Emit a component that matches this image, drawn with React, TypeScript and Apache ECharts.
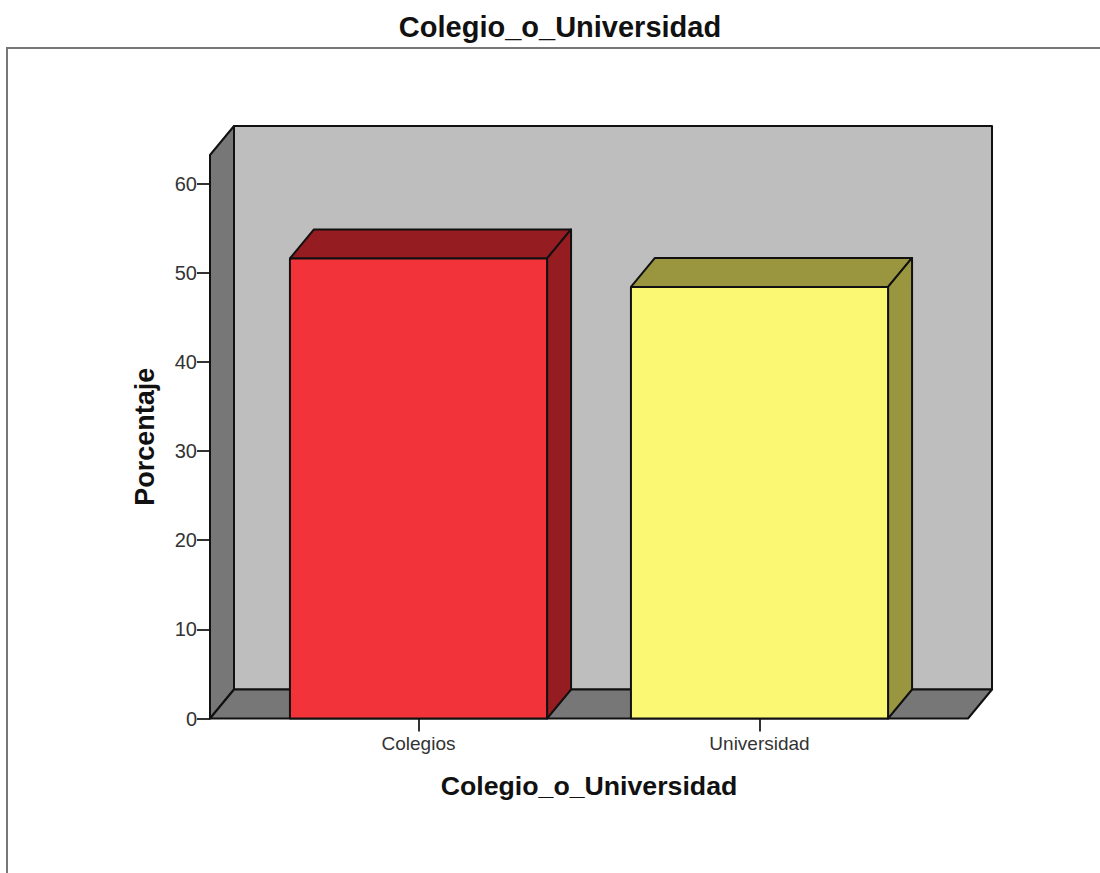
import React, { useEffect, useRef } from "react";
import * as echarts from "echarts";

const categories = ["Colegios", "Universidad"];
const percentages = [51.6, 48.4];
const yTicks = [0, 10, 20, 30, 40, 50, 60];
const barFills = ["#F2333A", "#FBF874"];
const barShades = ["#951C20", "#9A9640"];

const FONT = "'Liberation Sans', Arial, sans-serif";
const GRID = { left: 248, right: 170, top: 155, bottom: 154.5 };
const Y_MAX = 63.2;
const DEPTH_X = 24;
const DEPTH_Y = 29;
const WALL_OVERHANG = 38;
const BAR_RATIO = 0.754;
const OUTLINE = { stroke: "#111", lineWidth: 2, lineJoin: "round" as const };

const poly = (points: number[][], fill: string) => ({
  type: "polygon",
  shape: { points },
  style: { fill, ...OUTLINE },
});

export default function App() {
  const ref = useRef<HTMLDivElement>(null);
  useEffect(() => {
    const chart = echarts.init(ref.current!, null, { renderer: "svg" });
    chart.setOption({
      animation: false,
      backgroundColor: "#fff",
      title: {
        text: "Colegio_o_Universidad",
        left: 555,
        top: 7,
        textAlign: "center",
        textStyle: { fontFamily: FONT, fontSize: 29, fontWeight: "bold", color: "#111" },
      },
      grid: GRID,
      xAxis: {
        type: "category",
        data: categories,
        name: "Colegio_o_Universidad",
        nameLocation: "middle",
        nameGap: 54,
        nameTextStyle: { fontFamily: FONT, fontSize: 26.7, fontWeight: "bold", color: "#111" },
        axisLine: { show: false },
        axisTick: { show: true, alignWithLabel: true, length: 13, lineStyle: { color: "#333", width: 2 } },
        axisLabel: { fontFamily: FONT, fontSize: 19, color: "#333", margin: 15 },
      },
      yAxis: {
        type: "value",
        min: 0,
        max: Y_MAX,
        interval: 10,
        offset: WALL_OVERHANG,
        name: "Porcentaje",
        nameLocation: "middle",
        nameGap: 52,
        nameRotate: 90,
        nameTextStyle: { fontFamily: FONT, fontSize: 27, fontWeight: "bold", color: "#111" },
        splitLine: { show: false },
        axisLine: { show: false },
        axisTick: { show: true, length: 13, customValues: yTicks, lineStyle: { color: "#333", width: 2 } },
        axisLabel: { fontFamily: FONT, fontSize: 20, color: "#333", margin: 13, customValues: yTicks },
      },
      series: [
        {
          type: "custom",
          name: "walls",
          silent: true,
          z: 1,
          data: [[0, 0]],
          encode: { x: 0, y: 1 },
          renderItem: (_p: any, api: any) => {
            const [, y0] = api.coord([0, 0]);
            const [, yTop] = api.coord([0, Y_MAX]);
            const left = GRID.left - WALL_OVERHANG;
            const right = 1100 - GRID.right + WALL_OVERHANG;
            return {
              type: "group",
              children: [
                poly(
                  [
                    [left + DEPTH_X, yTop - DEPTH_Y],
                    [right + DEPTH_X, yTop - DEPTH_Y],
                    [right + DEPTH_X, y0 - DEPTH_Y],
                    [left + DEPTH_X, y0 - DEPTH_Y],
                  ],
                  "#BEBEBE"
                ),
                poly(
                  [
                    [left, yTop],
                    [left + DEPTH_X, yTop - DEPTH_Y],
                    [left + DEPTH_X, y0 - DEPTH_Y],
                    [left, y0],
                  ],
                  "#777777"
                ),
                poly(
                  [
                    [left, y0],
                    [left + DEPTH_X, y0 - DEPTH_Y],
                    [right + DEPTH_X, y0 - DEPTH_Y],
                    [right, y0],
                  ],
                  "#777777"
                ),
              ],
            };
          },
        },
        {
          type: "custom",
          name: "Porcentaje",
          z: 2,
          data: percentages.map((v, i) => [i, v]),
          encode: { x: 0, y: 1 },
          renderItem: (_p: any, api: any) => {
            const i = api.value(0);
            const [cx, yt] = api.coord([i, api.value(1)]);
            const [, yb] = api.coord([i, 0]);
            const w = api.size([1, 0])[0] * BAR_RATIO;
            const l = cx - w / 2;
            const r = cx + w / 2;
            return {
              type: "group",
              children: [
                poly(
                  [
                    [l, yt],
                    [l + DEPTH_X, yt - DEPTH_Y],
                    [r + DEPTH_X, yt - DEPTH_Y],
                    [r, yt],
                  ],
                  barShades[i]
                ),
                poly(
                  [
                    [r, yt],
                    [r + DEPTH_X, yt - DEPTH_Y],
                    [r + DEPTH_X, yb - DEPTH_Y],
                    [r, yb],
                  ],
                  barShades[i]
                ),
                poly(
                  [
                    [l, yt],
                    [r, yt],
                    [r, yb],
                    [l, yb],
                  ],
                  barFills[i]
                ),
              ],
            };
          },
        },
      ],
      graphic: [
        {
          type: "polyline",
          silent: true,
          shape: { points: [[7, 873], [7, 48], [1100, 48]] },
          style: { stroke: "#777", lineWidth: 2, fill: "none" },
        },
      ],
    });
    return () => chart.dispose();
  }, []);
  return <div ref={ref} style={{ position: "absolute", left: 0, top: 0, width: 1100, height: 873 }} />;
}
